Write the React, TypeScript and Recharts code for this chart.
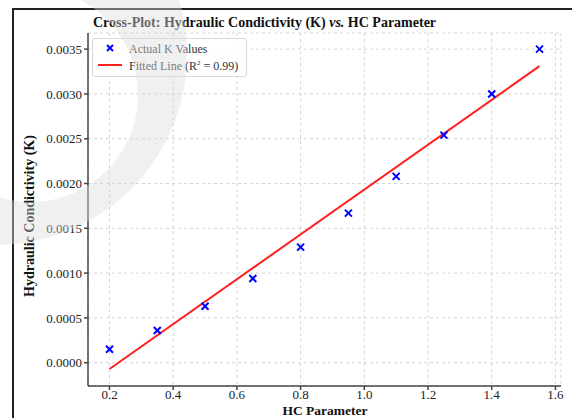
import { ScatterChart, Scatter, XAxis, YAxis, CartesianGrid } from "recharts";

const hcParam = [0.2, 0.35, 0.5, 0.65, 0.8, 0.95, 1.1, 1.25, 1.4, 1.55];
const kValues = [0.00015, 0.00036, 0.00063, 0.00094, 0.00129, 0.00167, 0.00208, 0.00254, 0.003, 0.0035];
const fitX = [0.2, 1.55];
const fitY = [-0.00007, 0.00331];
const xTicks = [0.2, 0.4, 0.6, 0.8, 1.0, 1.2, 1.4, 1.6];
const yTicks = [0, 0.0005, 0.001, 0.0015, 0.002, 0.0025, 0.003, 0.0035];

const points = hcParam.map((x, i) => ({ x, y: kValues[i] }));
const fitLine = fitX.map((x, i) => ({ x, y: fitY[i] }));

const serif = "'Liberation Serif', 'DejaVu Serif', serif";

function XMark(props: any) {
  const { cx, cy } = props;
  const s = 3.5;
  return (
    <g stroke="#0000ff" strokeWidth={2}>
      <line x1={cx - s} y1={cy - s} x2={cx + s} y2={cy + s} />
      <line x1={cx - s} y1={cy + s} x2={cx + s} y2={cy - s} />
    </g>
  );
}

function LegendBox() {
  return (
    <div
      style={{
        position: "absolute",
        left: 92,
        top: 38,
        border: "1px solid #d8d8d8",
        borderRadius: 3,
        background: "rgba(255,255,255,0.85)",
        padding: "3px 8px 3px 4px",
        fontFamily: serif,
        fontSize: 12,
        color: "#333",
        lineHeight: "14px",
      }}
    >
      <div style={{ display: "flex", alignItems: "center" }}>
        <svg width={26} height={14}>
          <g stroke="#0000ff" strokeWidth={2}>
            <line x1={10} y1={3} x2={16} y2={9} />
            <line x1={10} y1={9} x2={16} y2={3} />
          </g>
        </svg>
        <span style={{ marginLeft: 6 }}>Actual K Values</span>
      </div>
      <div style={{ display: "flex", alignItems: "center" }}>
        <svg width={26} height={14}>
          <line x1={1} y1={7} x2={25} y2={7} stroke="#ff2020" strokeWidth={2} />
        </svg>
        <span style={{ marginLeft: 6 }}>
          Fitted Line (R<sup style={{ fontSize: 7 }}>2</sup> = 0.99)
        </span>
      </div>
    </div>
  );
}

// faint crescent watermark lying over the left part of the picture
function Watermark() {
  const ring = (cx: number, cy: number, r: number) =>
    `M ${cx - r} ${cy} a ${r} ${r} 0 1 0 ${2 * r} 0 a ${r} ${r} 0 1 0 ${-2 * r} 0 Z`;
  return (
    <svg width={572} height={418} style={{ position: "absolute", left: 0, top: 0, pointerEvents: "none" }}>
      <path d={ring(-4, 54, 191) + " " + ring(31, 95, 107)} fillRule="evenodd" fill="rgba(220,220,220,0.42)" />
    </svg>
  );
}

export default function App() {
  const tick = { fontSize: 13, fill: "#222", fontFamily: serif };
  return (
    <div style={{ position: "absolute", left: 0, top: 0, width: 572, height: 418, background: "#fff", overflow: "hidden" }}>
      <div style={{ position: "absolute", left: 12, top: 8, width: 600, height: 500, borderLeft: "2.5px solid #222", borderTop: "2.5px solid #222" }} />
      <div
        style={{
          position: "absolute",
          left: 93,
          top: 15,
          fontFamily: serif,
          fontWeight: "bold",
          fontSize: 14,
          color: "#111",
          whiteSpace: "nowrap",
        }}
      >
        Cross-Plot: Hydraulic Condictivity (K) <i>vs.</i> HC Parameter
      </div>
      <div
        style={{
          position: "absolute",
          left: 30,
          top: 216,
          transform: "translate(-50%, -50%) rotate(-90deg)",
          fontFamily: serif,
          fontWeight: "bold",
          fontSize: 14,
          color: "#111",
          whiteSpace: "nowrap",
        }}
      >
        Hydraulic Condictivity (K)
      </div>
      <ScatterChart width={572} height={418} margin={{ top: 33, right: 11, bottom: 12, left: 28 }} style={{ position: "absolute", left: 0, top: 0 }}>
        <CartesianGrid strokeDasharray="3 3" stroke="#d4d4d4" />
        <XAxis
          type="number"
          dataKey="x"
          domain={[0.1325, 1.6175]}
          ticks={xTicks}
          tickFormatter={(v: number) => v.toFixed(1)}
          tick={tick}
          height={20}
          stroke="#444"
          strokeWidth={1.5}
          tickSize={4}
          tickMargin={0}
          allowDataOverflow
        />
        <YAxis
          type="number"
          dataKey="y"
          domain={[-0.00026, 0.00368]}
          ticks={yTicks}
          tickFormatter={(v: number) => v.toFixed(4)}
          tick={tick}
          width={60}
          stroke="#444"
          strokeWidth={1.5}
          tickSize={4}
          allowDataOverflow
        />
        <Scatter
          name="Fitted Line"
          data={fitLine}
          line={{ stroke: "#ff2020", strokeWidth: 2 }}
          shape={() => <g />}
          isAnimationActive={false}
        />
        <Scatter name="Actual K Values" data={points} shape={<XMark />} isAnimationActive={false} />
      </ScatterChart>
      <LegendBox />
      <div
        style={{
          position: "absolute",
          left: 325,
          top: 404,
          transform: "translateX(-50%)",
          fontFamily: serif,
          fontWeight: "bold",
          fontSize: 13.5,
          lineHeight: "14px",
          color: "#111",
          whiteSpace: "nowrap",
        }}
      >
        HC Parameter
      </div>
      <Watermark />
    </div>
  );
}
